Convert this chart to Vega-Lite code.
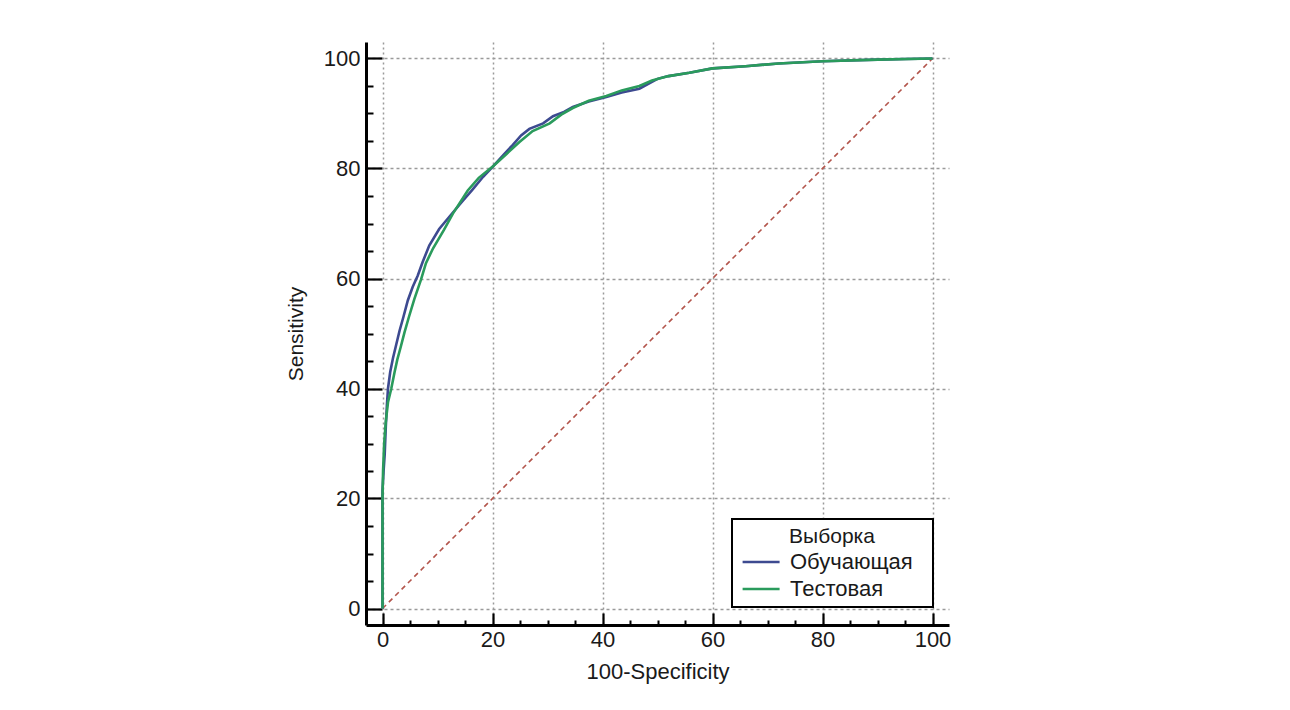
{
  "$schema": "https://vega.github.io/schema/vega-lite/v6.json",
  "autosize": {"type": "none"},
  "padding": {"left": 366, "top": 42, "right": 341, "bottom": 85},
  "width": 583,
  "height": 583,
  "background": "white",
  "config": {
    "view": {"stroke": null},
    "font": "Liberation Sans",
    "axis": {"labelFont": "Liberation Sans", "titleFont": "Liberation Sans", "labelColor": "#1a1a1a", "titleColor": "#1a1a1a", "titleFontWeight": "normal"},
    "legend": {"labelFont": "Liberation Sans", "titleFont": "Liberation Sans"}
  },
  "datasets": {
    "diag": [{"x": 0, "y": 0}, {"x": 100, "y": 100}],
    "roc": [
      {"sample": "Обучающая", "n": 1, "fpr": 0, "tpr": 0},
      {"sample": "Обучающая", "n": 2, "fpr": 0, "tpr": 21.5},
      {"sample": "Обучающая", "n": 3, "fpr": 0.2, "tpr": 25},
      {"sample": "Обучающая", "n": 4, "fpr": 0.4, "tpr": 28},
      {"sample": "Обучающая", "n": 5, "fpr": 0.6, "tpr": 33},
      {"sample": "Обучающая", "n": 6, "fpr": 0.8, "tpr": 37},
      {"sample": "Обучающая", "n": 7, "fpr": 1.0, "tpr": 40},
      {"sample": "Обучающая", "n": 8, "fpr": 1.4, "tpr": 43},
      {"sample": "Обучающая", "n": 9, "fpr": 1.9, "tpr": 45.5},
      {"sample": "Обучающая", "n": 10, "fpr": 2.5, "tpr": 48},
      {"sample": "Обучающая", "n": 11, "fpr": 3.1, "tpr": 50.5},
      {"sample": "Обучающая", "n": 12, "fpr": 3.8, "tpr": 53},
      {"sample": "Обучающая", "n": 13, "fpr": 4.6, "tpr": 56},
      {"sample": "Обучающая", "n": 14, "fpr": 5.5, "tpr": 58.5},
      {"sample": "Обучающая", "n": 15, "fpr": 6.4, "tpr": 60.5},
      {"sample": "Обучающая", "n": 16, "fpr": 7.3, "tpr": 63},
      {"sample": "Обучающая", "n": 17, "fpr": 8.5, "tpr": 66},
      {"sample": "Обучающая", "n": 18, "fpr": 10.3, "tpr": 69},
      {"sample": "Обучающая", "n": 19, "fpr": 12.8, "tpr": 72},
      {"sample": "Обучающая", "n": 20, "fpr": 14.5, "tpr": 74},
      {"sample": "Обучающая", "n": 21, "fpr": 16.4, "tpr": 76.2},
      {"sample": "Обучающая", "n": 22, "fpr": 18.3, "tpr": 78.5},
      {"sample": "Обучающая", "n": 23, "fpr": 20.1, "tpr": 80.4},
      {"sample": "Обучающая", "n": 24, "fpr": 22, "tpr": 82.5},
      {"sample": "Обучающая", "n": 25, "fpr": 23.7, "tpr": 84.3},
      {"sample": "Обучающая", "n": 26, "fpr": 25.2, "tpr": 86},
      {"sample": "Обучающая", "n": 27, "fpr": 26.7, "tpr": 87.2},
      {"sample": "Обучающая", "n": 28, "fpr": 29.2, "tpr": 88.2},
      {"sample": "Обучающая", "n": 29, "fpr": 31, "tpr": 89.5},
      {"sample": "Обучающая", "n": 30, "fpr": 33, "tpr": 90.3},
      {"sample": "Обучающая", "n": 31, "fpr": 34.6, "tpr": 91.2},
      {"sample": "Обучающая", "n": 32, "fpr": 37.5, "tpr": 92.2},
      {"sample": "Обучающая", "n": 33, "fpr": 40.7, "tpr": 93.0},
      {"sample": "Обучающая", "n": 34, "fpr": 43.5, "tpr": 93.8},
      {"sample": "Обучающая", "n": 35, "fpr": 46.7, "tpr": 94.5},
      {"sample": "Обучающая", "n": 36, "fpr": 48.5, "tpr": 95.5},
      {"sample": "Обучающая", "n": 37, "fpr": 50, "tpr": 96.3},
      {"sample": "Обучающая", "n": 38, "fpr": 52, "tpr": 96.8},
      {"sample": "Обучающая", "n": 39, "fpr": 55.8, "tpr": 97.4},
      {"sample": "Обучающая", "n": 40, "fpr": 60, "tpr": 98.2},
      {"sample": "Обучающая", "n": 41, "fpr": 66, "tpr": 98.6},
      {"sample": "Обучающая", "n": 42, "fpr": 72, "tpr": 99.1},
      {"sample": "Обучающая", "n": 43, "fpr": 80, "tpr": 99.5},
      {"sample": "Обучающая", "n": 44, "fpr": 90, "tpr": 99.8},
      {"sample": "Обучающая", "n": 45, "fpr": 95, "tpr": 99.9},
      {"sample": "Обучающая", "n": 46, "fpr": 100, "tpr": 100},
      {"sample": "Тестовая", "n": 1, "fpr": 0, "tpr": 0},
      {"sample": "Тестовая", "n": 2, "fpr": 0, "tpr": 20},
      {"sample": "Тестовая", "n": 3, "fpr": 0.1, "tpr": 25},
      {"sample": "Тестовая", "n": 4, "fpr": 0.3, "tpr": 30},
      {"sample": "Тестовая", "n": 5, "fpr": 0.6, "tpr": 34},
      {"sample": "Тестовая", "n": 6, "fpr": 1.0, "tpr": 37.5},
      {"sample": "Тестовая", "n": 7, "fpr": 1.6, "tpr": 40},
      {"sample": "Тестовая", "n": 8, "fpr": 2.2, "tpr": 43},
      {"sample": "Тестовая", "n": 9, "fpr": 2.7, "tpr": 45.3},
      {"sample": "Тестовая", "n": 10, "fpr": 3.3, "tpr": 47.5},
      {"sample": "Тестовая", "n": 11, "fpr": 4.0, "tpr": 50.2},
      {"sample": "Тестовая", "n": 12, "fpr": 4.8, "tpr": 53},
      {"sample": "Тестовая", "n": 13, "fpr": 5.8, "tpr": 56.3},
      {"sample": "Тестовая", "n": 14, "fpr": 7.0, "tpr": 59.8},
      {"sample": "Тестовая", "n": 15, "fpr": 7.9, "tpr": 62.8},
      {"sample": "Тестовая", "n": 16, "fpr": 9.2, "tpr": 65.5},
      {"sample": "Тестовая", "n": 17, "fpr": 11.2, "tpr": 68.9},
      {"sample": "Тестовая", "n": 18, "fpr": 12.8, "tpr": 71.8},
      {"sample": "Тестовая", "n": 19, "fpr": 15.5, "tpr": 76},
      {"sample": "Тестовая", "n": 20, "fpr": 17.5, "tpr": 78.3},
      {"sample": "Тестовая", "n": 21, "fpr": 20.1, "tpr": 80.4},
      {"sample": "Тестовая", "n": 22, "fpr": 22.5, "tpr": 82.6},
      {"sample": "Тестовая", "n": 23, "fpr": 24.9, "tpr": 84.8},
      {"sample": "Тестовая", "n": 24, "fpr": 27.3, "tpr": 86.8},
      {"sample": "Тестовая", "n": 25, "fpr": 30.4, "tpr": 88.2},
      {"sample": "Тестовая", "n": 26, "fpr": 32.5, "tpr": 89.8},
      {"sample": "Тестовая", "n": 27, "fpr": 34.6, "tpr": 91.0},
      {"sample": "Тестовая", "n": 28, "fpr": 37.5, "tpr": 92.3},
      {"sample": "Тестовая", "n": 29, "fpr": 40.7, "tpr": 93.2},
      {"sample": "Тестовая", "n": 30, "fpr": 43.5, "tpr": 94.2},
      {"sample": "Тестовая", "n": 31, "fpr": 46.7, "tpr": 95.0},
      {"sample": "Тестовая", "n": 32, "fpr": 49, "tpr": 96},
      {"sample": "Тестовая", "n": 33, "fpr": 52, "tpr": 96.8},
      {"sample": "Тестовая", "n": 34, "fpr": 55.8, "tpr": 97.4},
      {"sample": "Тестовая", "n": 35, "fpr": 60, "tpr": 98.2},
      {"sample": "Тестовая", "n": 36, "fpr": 66, "tpr": 98.6},
      {"sample": "Тестовая", "n": 37, "fpr": 72, "tpr": 99.1},
      {"sample": "Тестовая", "n": 38, "fpr": 80, "tpr": 99.5},
      {"sample": "Тестовая", "n": 39, "fpr": 90, "tpr": 99.8},
      {"sample": "Тестовая", "n": 40, "fpr": 100, "tpr": 100}
    ]
  },
  "layer": [
    {
      "data": {"name": "diag"},
      "mark": {"type": "line", "color": "#b3554c", "strokeWidth": 1.6, "strokeDash": [5, 4]},
      "encoding": {
        "x": {
          "field": "x", "type": "quantitative",
          "scale": {"domain": [-3, 103], "nice": false, "zero": false},
          "axis": {
            "orient": "bottom",
            "values": [0, 20, 40, 60, 80, 100],
            "title": "100-Specificity",
            "titleFontSize": 22,
            "titlePadding": 11,
            "labelFontSize": 22,
            "labelPadding": 16,
            "labelFlush": false,
            "tickSize": -12,
            "tickWidth": 2.2,
            "tickColor": "black",
            "domainColor": "black",
            "domainWidth": 3,
            "grid": true,
            "gridColor": "#9a9a9a",
            "gridDash": [2, 3],
            "gridWidth": 1.5
          }
        },
        "y": {
          "field": "y", "type": "quantitative",
          "scale": {"domain": [-3, 103], "nice": false, "zero": false},
          "axis": {
            "orient": "left",
            "values": [0, 20, 40, 60, 80, 100],
            "title": "Sensitivity",
            "titleFontSize": 21,
            "titlePadding": 17,
            "labelFontSize": 22,
            "labelPadding": 22,
            "labelFlush": false,
            "tickSize": -16,
            "tickWidth": 2.2,
            "tickColor": "black",
            "domainColor": "black",
            "domainWidth": 3,
            "grid": true,
            "gridColor": "#9a9a9a",
            "gridDash": [3, 3],
            "gridWidth": 1.5
          }
        }
      }
    },
    {
      "data": {"name": "roc"},
      "mark": {"type": "line", "strokeWidth": 2.6},
      "encoding": {
        "x": {
          "field": "fpr", "type": "quantitative",
          "scale": {"domain": [-3, 103], "nice": false, "zero": false},
          "axis": {
            "orient": "bottom",
            "values": [5, 10, 15, 25, 30, 35, 45, 50, 55, 65, 70, 75, 85, 90, 95],
            "title": null,
            "labels": false,
            "domain": false,
            "grid": false,
            "tickSize": -5,
            "tickWidth": 2,
            "tickColor": "black"
          }
        },
        "y": {
          "field": "tpr", "type": "quantitative",
          "scale": {"domain": [-3, 103], "nice": false, "zero": false},
          "axis": {
            "orient": "left",
            "values": [5, 10, 15, 25, 30, 35, 45, 50, 55, 65, 70, 75, 85, 90, 95],
            "title": null,
            "labels": false,
            "domain": false,
            "grid": false,
            "tickSize": -7,
            "tickWidth": 2,
            "tickColor": "black"
          }
        },
        "order": {"field": "n", "type": "quantitative"},
        "color": {
          "field": "sample", "type": "nominal",
          "scale": {"domain": ["Обучающая", "Тестовая"], "range": ["#3d4a90", "#2a9b5c"]},
          "legend": {
            "title": "Выборка",
            "orient": "none",
            "legendX": 366,
            "legendY": 477,
            "titleFontSize": 21,
            "titleFontWeight": "normal",
            "titleAnchor": "middle",
            "titleColor": "#1a1a1a",
            "titlePadding": 4,
            "labelFontSize": 22,
            "labelColor": "#1a1a1a",
            "labelOffset": 29,
            "symbolType": "M-0.8,0H3.2M18.4,0",
            "symbolSize": 342,
            "symbolStrokeWidth": 2.6,
            "rowPadding": 5,
            "padding": 7,
            "strokeColor": "black",
            "fillColor": "white",
            "encode": {"legend": {"update": {"strokeWidth": {"value": 2}}}}
          }
        }
      }
    }
  ],
  "resolve": {"axis": {"x": "independent", "y": "independent"}}
}
